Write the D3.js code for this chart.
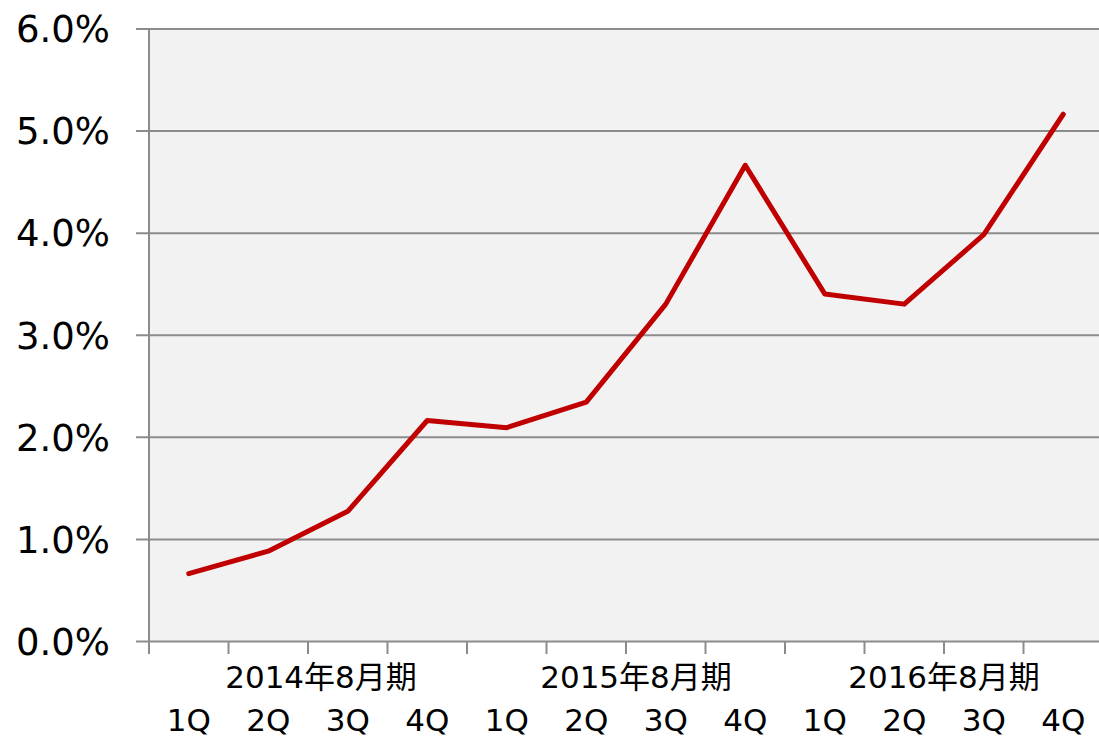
<!DOCTYPE html>
<html><head><meta charset="utf-8">
<script src="https://cdn.jsdelivr.net/npm/d3@7"></script>
<style>
html,body{margin:0;padding:0;background:#fff;overflow:hidden}
text{font-family:"DejaVu Sans","Noto Sans CJK JP",sans-serif;fill:#000}
</style></head><body>
<svg id="c" width="1099" height="737"></svg>
<script>
const quarters = ["1Q","2Q","3Q","4Q","1Q","2Q","3Q","4Q","1Q","2Q","3Q","4Q"];
const years = ["2014年8月期","2015年8月期","2016年8月期"];
const values = [0.66,0.88,1.27,2.16,2.09,2.34,3.30,4.66,3.40,3.30,3.98,5.16];
const yTicks = [0,1,2,3,4,5,6];

const svg = d3.select("#c");
const L = 149, R = 1103, T = 28.5, B = 641;
const idx = d3.range(values.length);
const x = d3.scaleBand().domain(idx).range([L, R]).padding(0);
const y = d3.scaleLinear().domain([0, 6]).range([B, T]);

svg.append("rect").attr("x", L).attr("y", T).attr("width", R - L).attr("height", B - T).attr("fill", "#f2f2f2");

// gridlines + y axis
const gy = svg.append("g").attr("transform", `translate(${L},0)`)
  .call(d3.axisLeft(y).tickValues(yTicks).tickSize(-(R - L)).tickFormat(d => d.toFixed(1) + "%"));
gy.select(".domain").remove();
gy.selectAll(".tick line").attr("stroke", "#8c8c8c").attr("stroke-width", 2).attr("x2", R - L).attr("x1", -13);
gy.selectAll(".tick text").attr("x", -39).attr("dy", "0.36em").style("font-size", "37px");

// x axis
const gx = svg.append("g").attr("transform", `translate(0,${B})`)
  .call(d3.axisBottom(x).tickValues([]).tickSizeOuter(0));
gx.select(".domain").remove();
const boundaries = d3.range(values.length + 1).map(i => L + i * x.bandwidth());
gx.selectAll("line.tk").data(boundaries).enter().append("line")
  .attr("x1", d => d).attr("x2", d => d).attr("y1", 0).attr("y2", 13)
  .attr("stroke", "#8c8c8c").attr("stroke-width", 2);
svg.append("line").attr("x1", L).attr("x2", L).attr("y1", T).attr("y2", B + 13)
  .attr("stroke", "#8c8c8c").attr("stroke-width", 2);

// quarter labels
svg.selectAll("text.q").data(quarters).enter().append("text")
  .attr("class", "q").attr("x", (d, i) => x(i) + x.bandwidth() / 2).attr("y", 731)
  .attr("text-anchor", "middle").style("font-size", "31px").text(d => d);

// year labels
const yearDx = [13, 10, 0];
svg.selectAll("text.yr").data(years).enter().append("text")
  .attr("class", "yr").attr("x", (d, i) => x(i * 4 + 2) + yearDx[i]).attr("y", 688)
  .attr("text-anchor", "middle").style("font-size", "31px").text(d => d);

// line
const line = d3.line().x((d, i) => x(i) + x.bandwidth() / 2).y(d => y(d));
svg.append("path").datum(values).attr("d", line)
  .attr("fill", "none").attr("stroke", "#c00000").attr("stroke-width", 5)
  .attr("stroke-linejoin", "round").attr("stroke-linecap", "round");
</script></body></html>
